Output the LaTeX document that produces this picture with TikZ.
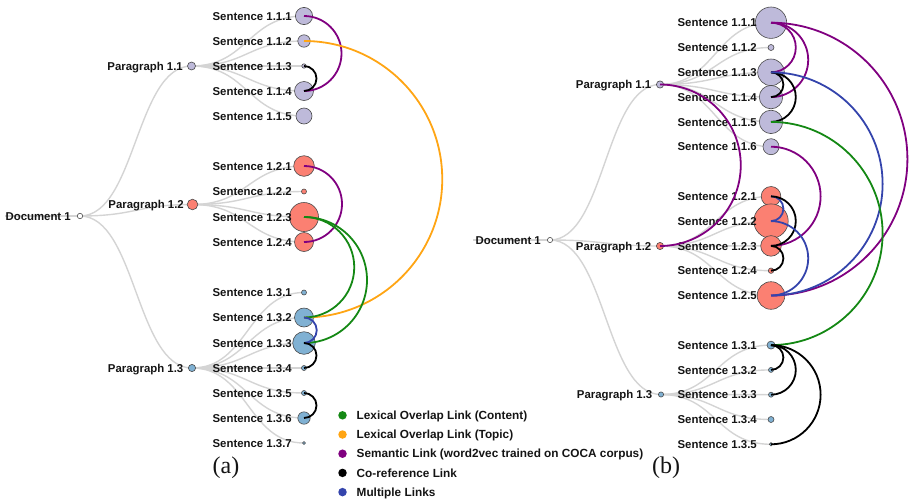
\documentclass[tikz,border=0pt]{standalone}
\usepackage{fontspec}
\setmainfont{Liberation Sans}
\newfontfamily\panelfont{Liberation Serif}
\usetikzlibrary{calc}

\definecolor{lav}{HTML}{BEBADA}
\definecolor{salmon}{HTML}{FB8072}
\definecolor{skyb}{HTML}{80B1D3}
\definecolor{nodeedge}{HTML}{4A4A4A}
\definecolor{treegray}{HTML}{D4D4D4}
\definecolor{txt}{HTML}{141414}
\definecolor{lgreen}{RGB}{20,136,20}
\definecolor{lorange}{RGB}{255,165,20}
\definecolor{lpurple}{RGB}{128,0,128}
\definecolor{lblue}{RGB}{52,68,172}

\pgfdeclarelayer{tree}
\pgfdeclarelayer{arcs}
\pgfsetlayers{tree,main,arcs}

\newcommand\lblfont{\fontsize{11.4}{13}\selectfont\bfseries}
\newcommand\legfont{\fontsize{11.8}{13}\selectfont\bfseries}

\tikzset{
  treeline/.style={draw=treegray, line width=1.4pt},
  dot/.style={circle, draw=nodeedge, line width=0.6pt, inner sep=0pt, outer sep=0pt},
  lbl/.style={anchor=base east, font=\lblfont, text=txt, inner sep=0pt},
  linkline/.style={line width=1.8pt},
  legdot/.style={circle, inner sep=0pt, minimum size=8.5pt},
  legtext/.style={anchor=base west, font=\legfont, text=txt, inner sep=0pt},
  caption/.style={font=\panelfont\fontsize{24}{26}\selectfont, text=txt, inner sep=0pt},
}

% circle node with its label: name, x, y, radius, fill, text, label gap
\newcommand\tnode[7]{%
  \node[dot, fill=#5, minimum size=#4*2pt] (#1) at (#2,#3) {};
  \node[lbl] (#1l) at (#2-#7,#3+4.1) {#6};}

% D3-style diagonal from parent to child
\newcommand\tlink[2]{%
  \begin{pgfonlayer}{tree}
  \draw[treeline] let \p1=(#1.center), \p2=(#2.center) in
    (\p1) .. controls ({(\x1+\x2)/2},\y1) and ({(\x1+\x2)/2},\y2) .. (\p2);
  \end{pgfonlayer}}

% semicircular link bulging to the right, upper node first
\newcommand\slink[3]{%
  \begin{pgfonlayer}{arcs}
  \draw[linkline, draw=#3] let \p1=(#1.center), \p2=(#2.center), \n1={(\y1-\y2)/2} in
    (\p1) arc[start angle=90, end angle=-90, radius=\n1];
  \end{pgfonlayer}}

\begin{document}
\begin{tikzpicture}[x=1pt, y=-1pt]
\useasboundingbox (0,0) rectangle (909,501);

%%%%%%%%%%%%%%%% left tree %%%%%%%%%%%%%%%%
\tnode{aD}{80}{216}{2.7}{white}{Document 1}{9}
\tnode{aP1}{191.5}{66}{4}{lav}{Paragraph 1.1}{8.5}
\tnode{aP2}{192.5}{204.5}{5.3}{salmon}{Paragraph 1.2}{8.5}
\tnode{aP3}{192}{368}{3.6}{skyb}{Paragraph 1.3}{8.5}

\tnode{a111}{304}{16}{8.6}{lav}{Sentence 1.1.1}{12}
\tnode{a112}{304}{41}{6.2}{lav}{Sentence 1.1.2}{12}
\tnode{a113}{304}{66}{2.2}{lav}{Sentence 1.1.3}{12}
\tnode{a114}{304}{91}{9.5}{lav}{Sentence 1.1.4}{12}
\tnode{a115}{304}{116}{8}{lav}{Sentence 1.1.5}{12}

\tnode{a121}{304}{166}{10.3}{salmon}{Sentence 1.2.1}{12}
\tnode{a122}{304}{191.5}{2.5}{salmon}{Sentence 1.2.2}{12}
\tnode{a123}{304}{217}{14.5}{salmon}{Sentence 1.2.3}{12}
\tnode{a124}{304}{242}{9.5}{salmon}{Sentence 1.2.4}{12}

\tnode{a131}{304}{292.5}{2.5}{skyb}{Sentence 1.3.1}{12}
\tnode{a132}{304}{317.5}{9.5}{skyb}{Sentence 1.3.2}{12}
\tnode{a133}{304}{343}{11.3}{skyb}{Sentence 1.3.3}{12}
\tnode{a134}{304}{368}{2.5}{skyb}{Sentence 1.3.4}{12}
\tnode{a135}{304}{393}{2.5}{skyb}{Sentence 1.3.5}{12}
\tnode{a136}{304}{418}{6.2}{skyb}{Sentence 1.3.6}{12}
\tnode{a137}{304}{443}{1.5}{skyb}{Sentence 1.3.7}{12}

\coordinate (aroot) at (aDl.west |- aD.center);
\begin{pgfonlayer}{tree}
\draw[treeline] (aroot) -- (aD.center);
\end{pgfonlayer}
\tlink{aD}{aP1}\tlink{aD}{aP2}\tlink{aD}{aP3}
\foreach \s in {a111,a112,a113,a114,a115}{\tlink{aP1}{\s}}
\foreach \s in {a121,a122,a123,a124}{\tlink{aP2}{\s}}
\foreach \s in {a131,a132,a133,a134,a135,a136,a137}{\tlink{aP3}{\s}}

\slink{a111}{a114}{lpurple}
\slink{a112}{a132}{lorange}
\slink{a113}{a114}{black}
\slink{a121}{a124}{lpurple}
\slink{a123}{a132}{lgreen}
\slink{a123}{a133}{lgreen}
\slink{a132}{a133}{lblue}
\slink{a133}{a134}{black}
\slink{a135}{a136}{black}

%%%%%%%%%%%%%%%% right tree %%%%%%%%%%%%%%%%
\tnode{bD}{550}{240}{2.6}{white}{Document 1}{9}
\tnode{bP1}{660}{84.5}{3.6}{lav}{Paragraph 1.1}{8.5}
\tnode{bP2}{660}{246}{3.6}{salmon}{Paragraph 1.2}{8.5}
\tnode{bP3}{661}{394.5}{2.6}{skyb}{Paragraph 1.3}{8.5}

\tnode{b111}{771}{22.7}{15.7}{lav}{Sentence 1.1.1}{14}
\tnode{b112}{771}{47.5}{3}{lav}{Sentence 1.1.2}{14}
\tnode{b113}{771}{72.3}{13.3}{lav}{Sentence 1.1.3}{14}
\tnode{b114}{771}{97.1}{11.7}{lav}{Sentence 1.1.4}{14}
\tnode{b115}{771}{121.9}{11.7}{lav}{Sentence 1.1.5}{14}
\tnode{b116}{771}{146.7}{8}{lav}{Sentence 1.1.6}{14}

\tnode{b121}{771}{196.3}{9.8}{salmon}{Sentence 1.2.1}{14}
\tnode{b122}{771}{221.1}{17.2}{salmon}{Sentence 1.2.2}{14}
\tnode{b123}{771}{245.9}{10.3}{salmon}{Sentence 1.2.3}{14}
\tnode{b124}{771}{270.7}{2.7}{salmon}{Sentence 1.2.4}{14}
\tnode{b125}{771}{295.5}{13.8}{salmon}{Sentence 1.2.5}{14}

\tnode{b131}{771}{345.1}{4}{skyb}{Sentence 1.3.1}{14}
\tnode{b132}{771}{369.9}{2.5}{skyb}{Sentence 1.3.2}{14}
\tnode{b133}{771}{394.7}{2.5}{skyb}{Sentence 1.3.3}{14}
\tnode{b134}{771}{419.5}{3}{skyb}{Sentence 1.3.4}{14}
\tnode{b135}{771}{444.3}{1.7}{skyb}{Sentence 1.3.5}{14}

\coordinate (broot) at ([xshift=-2pt]bDl.west |- bD.center);
\begin{pgfonlayer}{tree}
\draw[treeline] (broot) -- (bD.center);
\end{pgfonlayer}
\tlink{bD}{bP1}\tlink{bD}{bP2}\tlink{bD}{bP3}
\foreach \s in {b111,b112,b113,b114,b115,b116}{\tlink{bP1}{\s}}
\foreach \s in {b121,b122,b123,b124,b125}{\tlink{bP2}{\s}}
\foreach \s in {b131,b132,b133,b134,b135}{\tlink{bP3}{\s}}

\slink{bP1}{bP2}{lpurple}
\slink{b111}{b113}{lpurple}
\slink{b111}{b114}{lpurple}
\slink{b111}{b125}{lpurple}
\slink{b113}{b114}{black}
\slink{b113}{b115}{black}
\slink{b113}{b125}{lblue}
\slink{b115}{b131}{lgreen}
\slink{b116}{b123}{lpurple}
\slink{b121}{b122}{lblue}
\slink{b121}{b123}{black}
\slink{b122}{b125}{lblue}
\slink{b123}{b124}{black}
\slink{b131}{b132}{black}
\slink{b131}{b133}{black}
\slink{b131}{b135}{black}

%%%%%%%%%%%%%%%% legend %%%%%%%%%%%%%%%%
\foreach \c/\t [count=\i from 0] in {
  lgreen/Lexical Overlap Link (Content),
  lorange/Lexical Overlap Link (Topic),
  lpurple/Semantic Link (word2vec trained on COCA corpus),
  black/Co-reference Link,
  lblue/Multiple Links}{
  \node[legdot, fill=\c] (leg\i) at (342.5,415.3+19.2*\i) {};
  \node[legtext] (legt\i) at (356.5,419.5+19.2*\i) {\t};
}

%%%%%%%%%%%%%%%% panel captions %%%%%%%%%%%%%%%%
\node[caption] (capa) at (226,467.5) {(a)};
\node[caption] (capb) at (666,467.5) {(b)};
\end{tikzpicture}
\end{document}
